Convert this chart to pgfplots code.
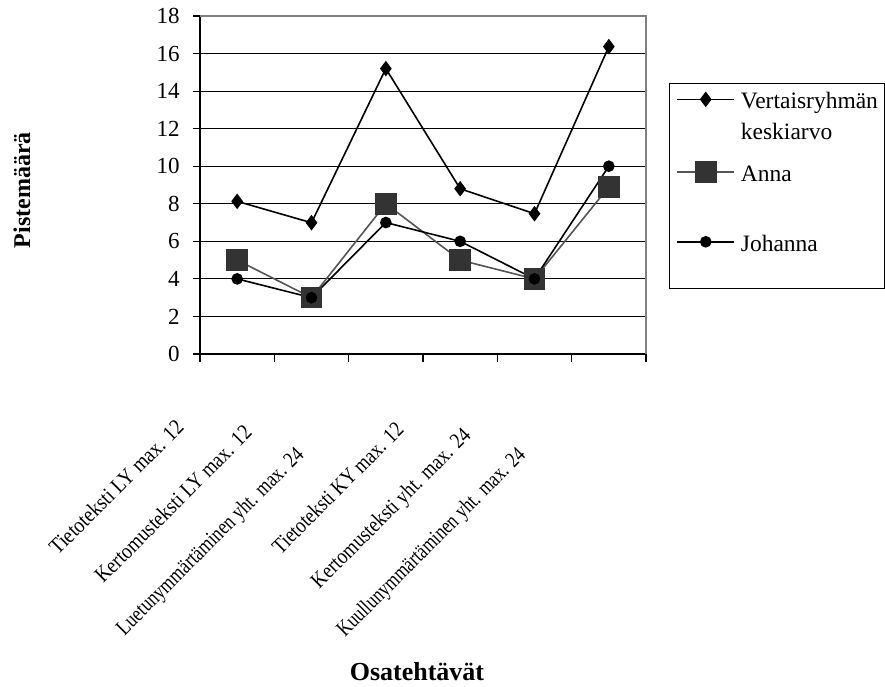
\documentclass[border=0pt]{standalone}
\usepackage{fontspec}
\setmainfont{Liberation Serif}
\usepackage{graphicx}
\usepackage{pgfplots}
\pgfplotsset{compat=1.18}

\definecolor{annaline}{RGB}{85,85,85}
\definecolor{annafill}{RGB}{51,51,51}
\definecolor{framegray}{RGB}{128,128,128}

% category label: condensed text (#2 = horizontal scale),
% trailing space (#3) slides it down along its slant
\newcommand{\catlab}[3]{\scalebox{#2}[1]{#1}\hspace*{#3}}

\begin{document}
\begin{tikzpicture}
\useasboundingbox (0,0) rectangle (885bp,687bp);
\begin{axis}[
  at={(200bp,333bp)}, anchor=south west,
  scale only axis, width=446bp, height=338bp,
  xmin=0.5, xmax=6.5, ymin=0, ymax=18,
  axis lines=left,
  axis line style={-, line width=1.4bp, black},
  xtick={0.5,1.5,2.5,3.5,4.5,5.5,6.5}, xticklabels={},
  ytick={0,2,4,6,8,10,12,14,16,18},
  xtick align=outside, ytick align=center,
  xtick style={/pgfplots/major tick length=8bp, line width=1.2bp, black},
  ytick style={/pgfplots/major tick length=14bp, line width=1.2bp, black},
  ymajorgrids, grid style={black, line width=1.1bp},
  /pgf/number format/assume math mode=true,
  tick label style={font=\fontsize{23bp}{27bp}\selectfont},
  yticklabel style={anchor=east, inner sep=0pt, xshift=-18bp},
  extra x ticks={1.373,2.363,3.392,4.361,5.383,6.379},
  extra x tick labels={
    \catlab{Tietoteksti LY max. 12}{0.88}{0bp},
    \catlab{Kertomusteksti LY max. 12}{0.863}{47.5bp},
    \catlab{Luetunymmärtäminen yht. max. 24}{0.81}{156.4bp},
    \catlab{Tietoteksti KY max. 12}{0.84}{2.3bp},
    \catlab{Kertomusteksti yht. max. 24}{0.85}{63.1bp},
    \catlab{Kuullunymmärtäminen yht. max. 24}{0.79}{159.2bp}},
  extra x tick style={grid=none, xtick style={draw=none}},
  xticklabel style={yshift=-128.7bp, xshift=-148.67bp, rotate=45, anchor=center,
    inner sep=0pt, font=\fontsize{22bp}{26bp}\selectfont},
  xlabel={Osatehtävät},
  xlabel style={at={(axis description cs:0.4865,-0.967)}, anchor=base,
    font=\bfseries\fontsize{26bp}{30bp}\selectfont},
  ylabel={Pistemäärä},
  ylabel style={at={(axis description cs:-0.381,0.485)}, anchor=base,
    font=\bfseries\fontsize{24bp}{28bp}\selectfont},
  legend image code/.code={\draw[mark repeat=2, mark phase=2, #1]
    plot coordinates {(0bp,9.5bp) (28.35bp,9.5bp) (56.7bp,9.5bp)};},
  legend style={at={(axis description cs:1.0516,0.8018)}, anchor=north west,
    draw=black, line width=1.2bp, inner xsep=7bp, inner ysep=0pt,
    row sep=0pt, column sep=6bp,
    nodes={inner sep=0pt, text depth={}},
    cells={anchor=base west},
    font=\fontsize{23.5bp}{31bp}\selectfont},
  after end axis/.code={
    \draw[framegray, line width=1.8bp] (rel axis cs:0,1) -- (rel axis cs:1,1) -- (rel axis cs:1,0);},
]
\addplot[black, line width=1.6bp, mark=diamond*, mark size=6.5bp,
  mark options={solid, fill=black}]
  coordinates {(1,8.13) (2,6.99) (3,15.2) (4,8.8) (5,7.47) (6,16.37)};
\addlegendentry{\raisebox{0pt}[25.3bp][52.7bp]{\begin{tabular}[t]{@{}l@{}}Vertaisryhmän\\keskiarvo\end{tabular}}}
\addplot[annaline, line width=1.6bp, mark=square*, mark size=10bp,
  mark options={solid, fill=annafill, draw=annafill}]
  coordinates {(1,5) (2,3) (3,8) (4,5) (5,4) (6,8.9)};
\addlegendentry{\raisebox{0pt}[20bp][49.7bp]{Anna}}
\addplot[black, line width=1.6bp, mark=*, mark size=5bp,
  mark options={solid, fill=black}]
  coordinates {(1,4) (2,3) (3,7) (4,6) (5,4) (6,10)};
\addlegendentry{\raisebox{0pt}[20bp][37.3bp]{Johanna}}
\end{axis}
\end{tikzpicture}
\end{document}
